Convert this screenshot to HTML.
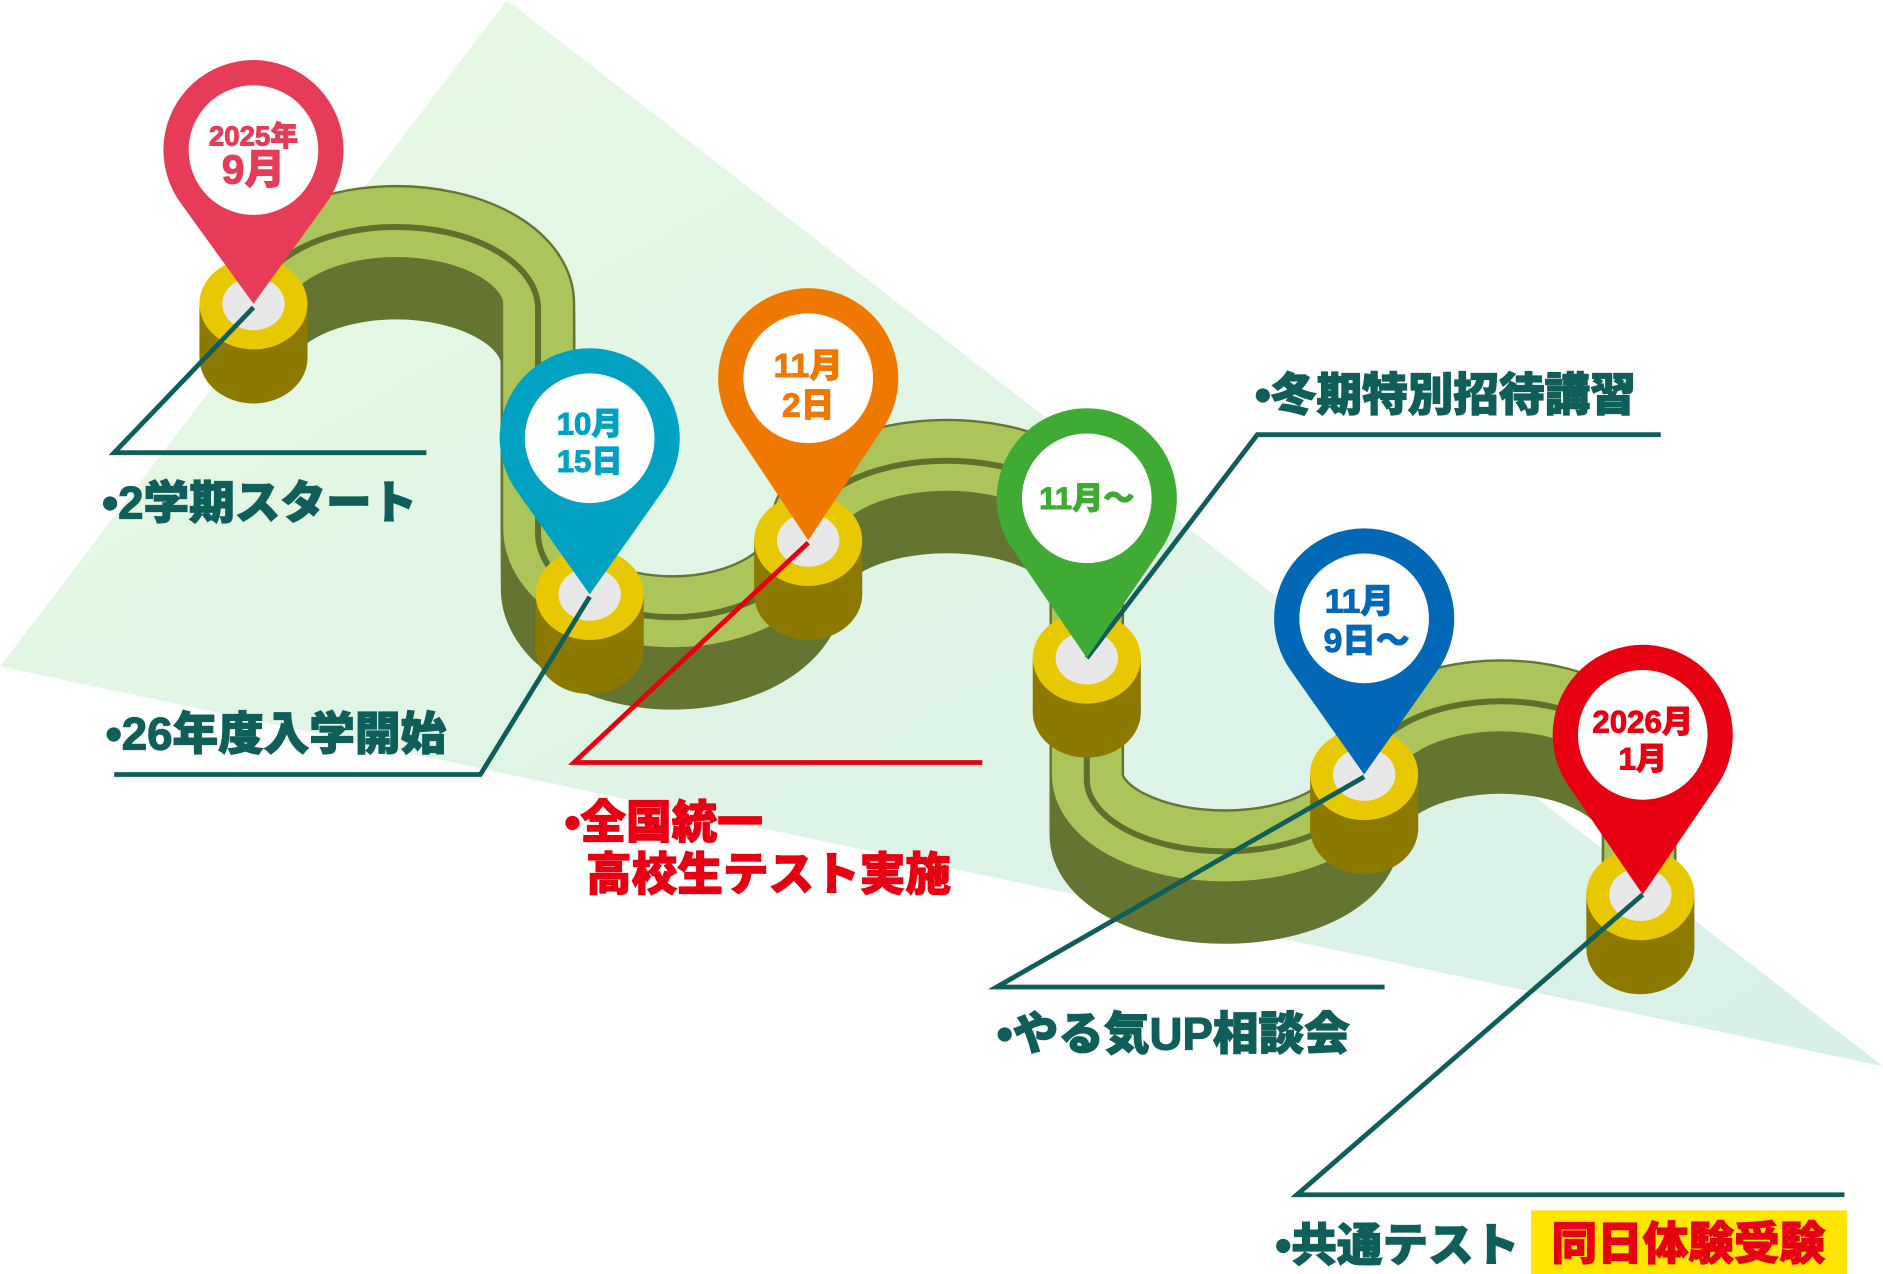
<!DOCTYPE html>
<html><head><meta charset="utf-8"><style>
html,body{margin:0;padding:0;background:#fff}
svg{display:block}
text{font-family:"Liberation Sans","Noto Sans CJK JP",sans-serif;font-weight:900}
</style></head><body>
<svg width="1883" height="1274" viewBox="0 0 1568 1061" xmlns="http://www.w3.org/2000/svg">
<defs>
<linearGradient id="bg" x1="0" y1="0" x2="1" y2="1">
<stop offset="0" stop-color="#e8f9e2"/><stop offset="1" stop-color="#d8f0ea"/>
</linearGradient>
</defs>
<polygon points="422,0 0,555 1568,888" fill="url(#bg)"/>
<g fill="none" stroke-linecap="butt">
<g stroke="#647532" stroke-width="62">
<path id="rd" d="M 212 253 A 118 68 0 0 1 448 253 L 448 440 A 112 70 0 0 0 672 440 A 116 60 0 0 1 905 440 L 905 645 A 115 60 0 0 0 1135 645 A 115 65 0 0 1 1365 645 L 1365 742"/>
<use href="#rd" y="10"/><use href="#rd" y="20"/><use href="#rd" y="30"/><use href="#rd" y="40"/><use href="#rd" y="50"/>
</g>
<use href="#rd" stroke="#acc55a" stroke-width="58"/>
<use href="#rd" stroke="#5f6f2c" stroke-width="5" y="4"/>
</g>
<g>
<g transform="translate(211,253)"><rect x="-45" y="0" width="90" height="45" fill="#8c7a00"/><ellipse cx="0" cy="45" rx="45" ry="38" fill="#8c7a00"/><ellipse rx="45" ry="38" fill="#e8c800"/><ellipse rx="26" ry="22" fill="#e8e8e8"/></g>
<g transform="translate(491,495)"><rect x="-45" y="0" width="90" height="45" fill="#8c7a00"/><ellipse cx="0" cy="45" rx="45" ry="38" fill="#8c7a00"/><ellipse rx="45" ry="38" fill="#e8c800"/><ellipse rx="26" ry="22" fill="#e8e8e8"/></g>
<g transform="translate(673,450)"><rect x="-45" y="0" width="90" height="45" fill="#8c7a00"/><ellipse cx="0" cy="45" rx="45" ry="38" fill="#8c7a00"/><ellipse rx="45" ry="38" fill="#e8c800"/><ellipse rx="26" ry="22" fill="#e8e8e8"/></g>
<g transform="translate(905,548)"><rect x="-45" y="0" width="90" height="45" fill="#8c7a00"/><ellipse cx="0" cy="45" rx="45" ry="38" fill="#8c7a00"/><ellipse rx="45" ry="38" fill="#e8c800"/><ellipse rx="26" ry="22" fill="#e8e8e8"/></g>
<g transform="translate(1136,645)"><rect x="-45" y="0" width="90" height="45" fill="#8c7a00"/><ellipse cx="0" cy="45" rx="45" ry="38" fill="#8c7a00"/><ellipse rx="45" ry="38" fill="#e8c800"/><ellipse rx="26" ry="22" fill="#e8e8e8"/></g>
<g transform="translate(1366,745)"><rect x="-45" y="0" width="90" height="45" fill="#8c7a00"/><ellipse cx="0" cy="45" rx="45" ry="38" fill="#8c7a00"/><ellipse rx="45" ry="38" fill="#e8c800"/><ellipse rx="26" ry="22" fill="#e8e8e8"/></g>
</g>
<g fill="none" stroke-width="4">
<polyline points="211,256 95,377 355,377" stroke="#0f5e5a"/>
<polyline points="491,497 400,645 95,645" stroke="#0f5e5a"/>
<polyline points="673,452 478,635 818,635" stroke="#e60012"/>
<polyline points="905,548 1047,362 1383,362" stroke="#0f5e5a"/>
<polyline points="1136,647 830,822 1153,822" stroke="#0f5e5a"/>
<polyline points="1368,745 1080,995 1536,995" stroke="#0f5e5a"/>
</g>
<g>
<path d="M211 253 L151 170 A75 75 0 1 1 271 170 Z" fill="#e63c58"/><circle cx="211" cy="125" r="54" fill="#fff"/>
<path d="M491 495 L431 410 A75 75 0 1 1 551 410 Z" fill="#00a1c1"/><circle cx="491" cy="365" r="54" fill="#fff"/>
<path d="M673 450 L613 360 A75 75 0 1 1 733 360 Z" fill="#ef7800"/><circle cx="673" cy="315" r="54" fill="#fff"/>
<path d="M905 548 L845 460 A75 75 0 1 1 965 460 Z" fill="#3fab35"/><circle cx="905" cy="415" r="54" fill="#fff"/>
<path d="M1136 645 L1076 560 A75 75 0 1 1 1196 560 Z" fill="#0068b7"/><circle cx="1136" cy="515" r="54" fill="#fff"/>
<path d="M1368 745 L1308 657 A75 75 0 1 1 1428 657 Z" fill="#e60012"/><circle cx="1368" cy="612" r="54" fill="#fff"/>
</g>
<g text-anchor="middle" stroke-width="0.8">
<text x="211" y="121" font-size="23" fill="#e63c58" stroke="#e63c58">2025年</text>
<text x="211" y="153" font-size="34" fill="#e63c58" stroke="#e63c58">9月</text>
<text x="491" y="362" font-size="26" fill="#00a1c1" stroke="#00a1c1">10月</text>
<text x="491" y="393" font-size="26" fill="#00a1c1" stroke="#00a1c1">15日</text>
<text x="673" y="314" font-size="28" fill="#ef7800" stroke="#ef7800">11月</text>
<text x="673" y="347" font-size="28" fill="#ef7800" stroke="#ef7800">2日</text>
<text x="905" y="424" font-size="26" fill="#3fab35" stroke="#3fab35">11月〜</text>
<text x="1132" y="510" font-size="28" fill="#0068b7" stroke="#0068b7">11月</text>
<text x="1138" y="543" font-size="28" fill="#0068b7" stroke="#0068b7">9日〜</text>
<text x="1368" y="610" font-size="26" fill="#e60012" stroke="#e60012">2026月</text>
<text x="1368" y="641" font-size="26" fill="#e60012" stroke="#e60012">1月</text>
</g>
<g font-size="38" fill="#0f5e5a" stroke="#0f5e5a" stroke-width="1">
<text x="85" y="432">•2学期スタート</text>
<text x="88" y="624">•26年度入学開始</text>
<text x="1045" y="342">•冬期特別招待講習</text>
<text x="830" y="874">•やる気UP相談会</text>
<text x="1062" y="1050">•共通テスト</text>
</g>
<g font-size="38" fill="#e60012" stroke="#e60012" stroke-width="1">
<text x="470" y="698">•全国統一</text>
<text x="488" y="741">高校生テスト実施</text>
</g>
<rect x="1275" y="1008" width="263" height="53" fill="#ffe600"/>
<text x="1406" y="1049" font-size="38" fill="#e60012" stroke="#e60012" stroke-width="1" text-anchor="middle">同日体験受験</text>
</svg>
</body></html>
